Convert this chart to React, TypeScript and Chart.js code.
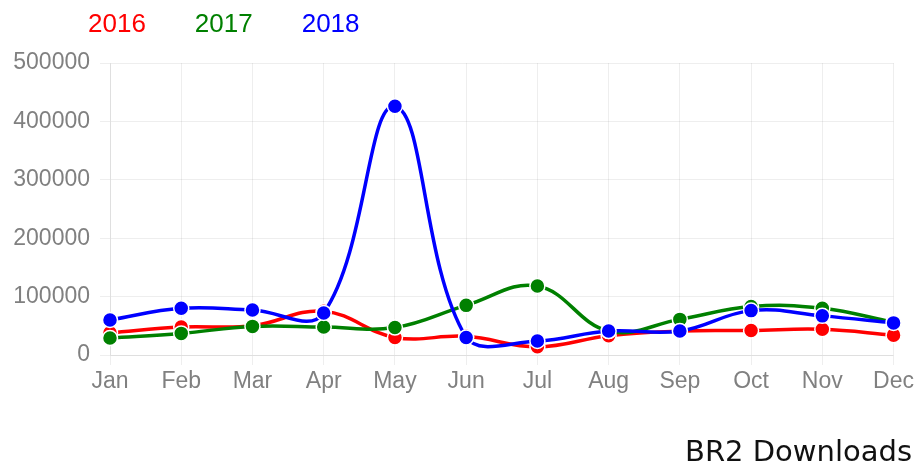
import React, { useEffect, useRef } from "react";
import { Chart, registerables } from "chart.js";

Chart.register(...registerables);

const months = ["Jan", "Feb", "Mar", "Apr", "May", "Jun", "Jul", "Aug", "Sep", "Oct", "Nov", "Dec"];
const seriesLabels = ["2016", "2017", "2018"];
const data2016 = [38000, 48000, 50000, 75000, 30000, 32000, 14000, 33000, 41000, 42000, 44000, 34000];
const data2017 = [29000, 37000, 49000, 48000, 47000, 85000, 118000, 41000, 61000, 83000, 80000, 56000];
const data2018 = [60000, 80000, 77000, 72000, 426000, 30000, 24000, 41000, 41000, 76000, 67000, 55000];
const seriesColors = ["rgb(255,0,0)", "rgb(0,128,0)", "rgb(0,0,255)"];
const yMin = 0;
const yMax = 500000;
const yStep = 100000;
const titleText = "BR2 Downloads";

// Simple text-only legend (coloured labels, no boxes) drawn above the plot area.
const textLegend = {
  id: "textLegend",
  afterDraw(chart: any, _args: any, opts: any) {
    const ctx = chart.ctx;
    ctx.save();
    ctx.font = `${opts.size}px ${opts.family}`;
    ctx.textBaseline = "middle";
    ctx.textAlign = "left";
    let x = chart.chartArea.left + opts.offsetX;
    chart.data.datasets.forEach((ds: any) => {
      ctx.fillStyle = ds.borderColor;
      ctx.fillText(ds.label, x, opts.y);
      x += ctx.measureText(ds.label).width + opts.gap;
    });
    ctx.restore();
  },
};

export default function App() {
  const ref = useRef<HTMLCanvasElement>(null);

  useEffect(() => {
    document.body.style.margin = "0";
    const allData = [data2016, data2017, data2018];
    const chart = new Chart(ref.current as HTMLCanvasElement, {
      type: "line",
      data: {
        labels: months,
        datasets: allData.map((d, i) => ({
          label: seriesLabels[i],
          data: d,
          borderColor: seriesColors[i],
          backgroundColor: seriesColors[i],
          pointBackgroundColor: seriesColors[i],
          pointBorderColor: "#ffffff",
          pointBorderWidth: 1.5,
          pointRadius: 7.5,
          borderWidth: 3.5,
          tension: 0.4,
          fill: false,
          order: 2 - i,
        })),
      },
      plugins: [textLegend],
      options: {
        animation: false,
        responsive: true,
        maintainAspectRatio: false,
        layout: { padding: { left: 0, top: 63, right: 5, bottom: 0 } },
        plugins: {
          tooltip: { enabled: false },
          legend: { display: false },
          textLegend: {
            family: "'Liberation Sans', Arial, sans-serif",
            size: 26,
            offsetX: -22,
            gap: 49,
            y: 25,
          },
          title: {
            display: true,
            position: "bottom",
            align: "end",
            text: titleText,
            color: "#111",
            font: { family: "'DejaVu Sans', sans-serif", size: 29, weight: "normal" },
            padding: { top: 37.6, bottom: -3 },
          },
        } as any,
        scales: {
          x: {
            grid: { color: "rgba(0,0,0,0.065)", tickLength: 10 },
            border: { color: "rgba(0,0,0,0.065)" },
            ticks: {
              color: "#808080",
              padding: 3,
              font: { family: "'Liberation Sans', Arial, sans-serif", size: 23 },
              maxRotation: 0,
            },
          },
          y: {
            min: yMin,
            max: yMax,
            grid: { color: "rgba(0,0,0,0.065)", tickLength: 10 },
            border: { color: "rgba(0,0,0,0.065)" },
            afterFit: (s: any) => {
              s.width = 110;
            },
            ticks: {
              stepSize: yStep,
              color: "#808080",
              padding: 10,
              font: { family: "'Liberation Sans', Arial, sans-serif", size: 23 },
              callback: (v: any) => String(v),
            },
          },
        },
      },
    });
    return () => chart.destroy();
  }, []);

  return (
    <div style={{ width: 917, height: 468, position: "relative" }}>
      <canvas ref={ref} />
    </div>
  );
}
